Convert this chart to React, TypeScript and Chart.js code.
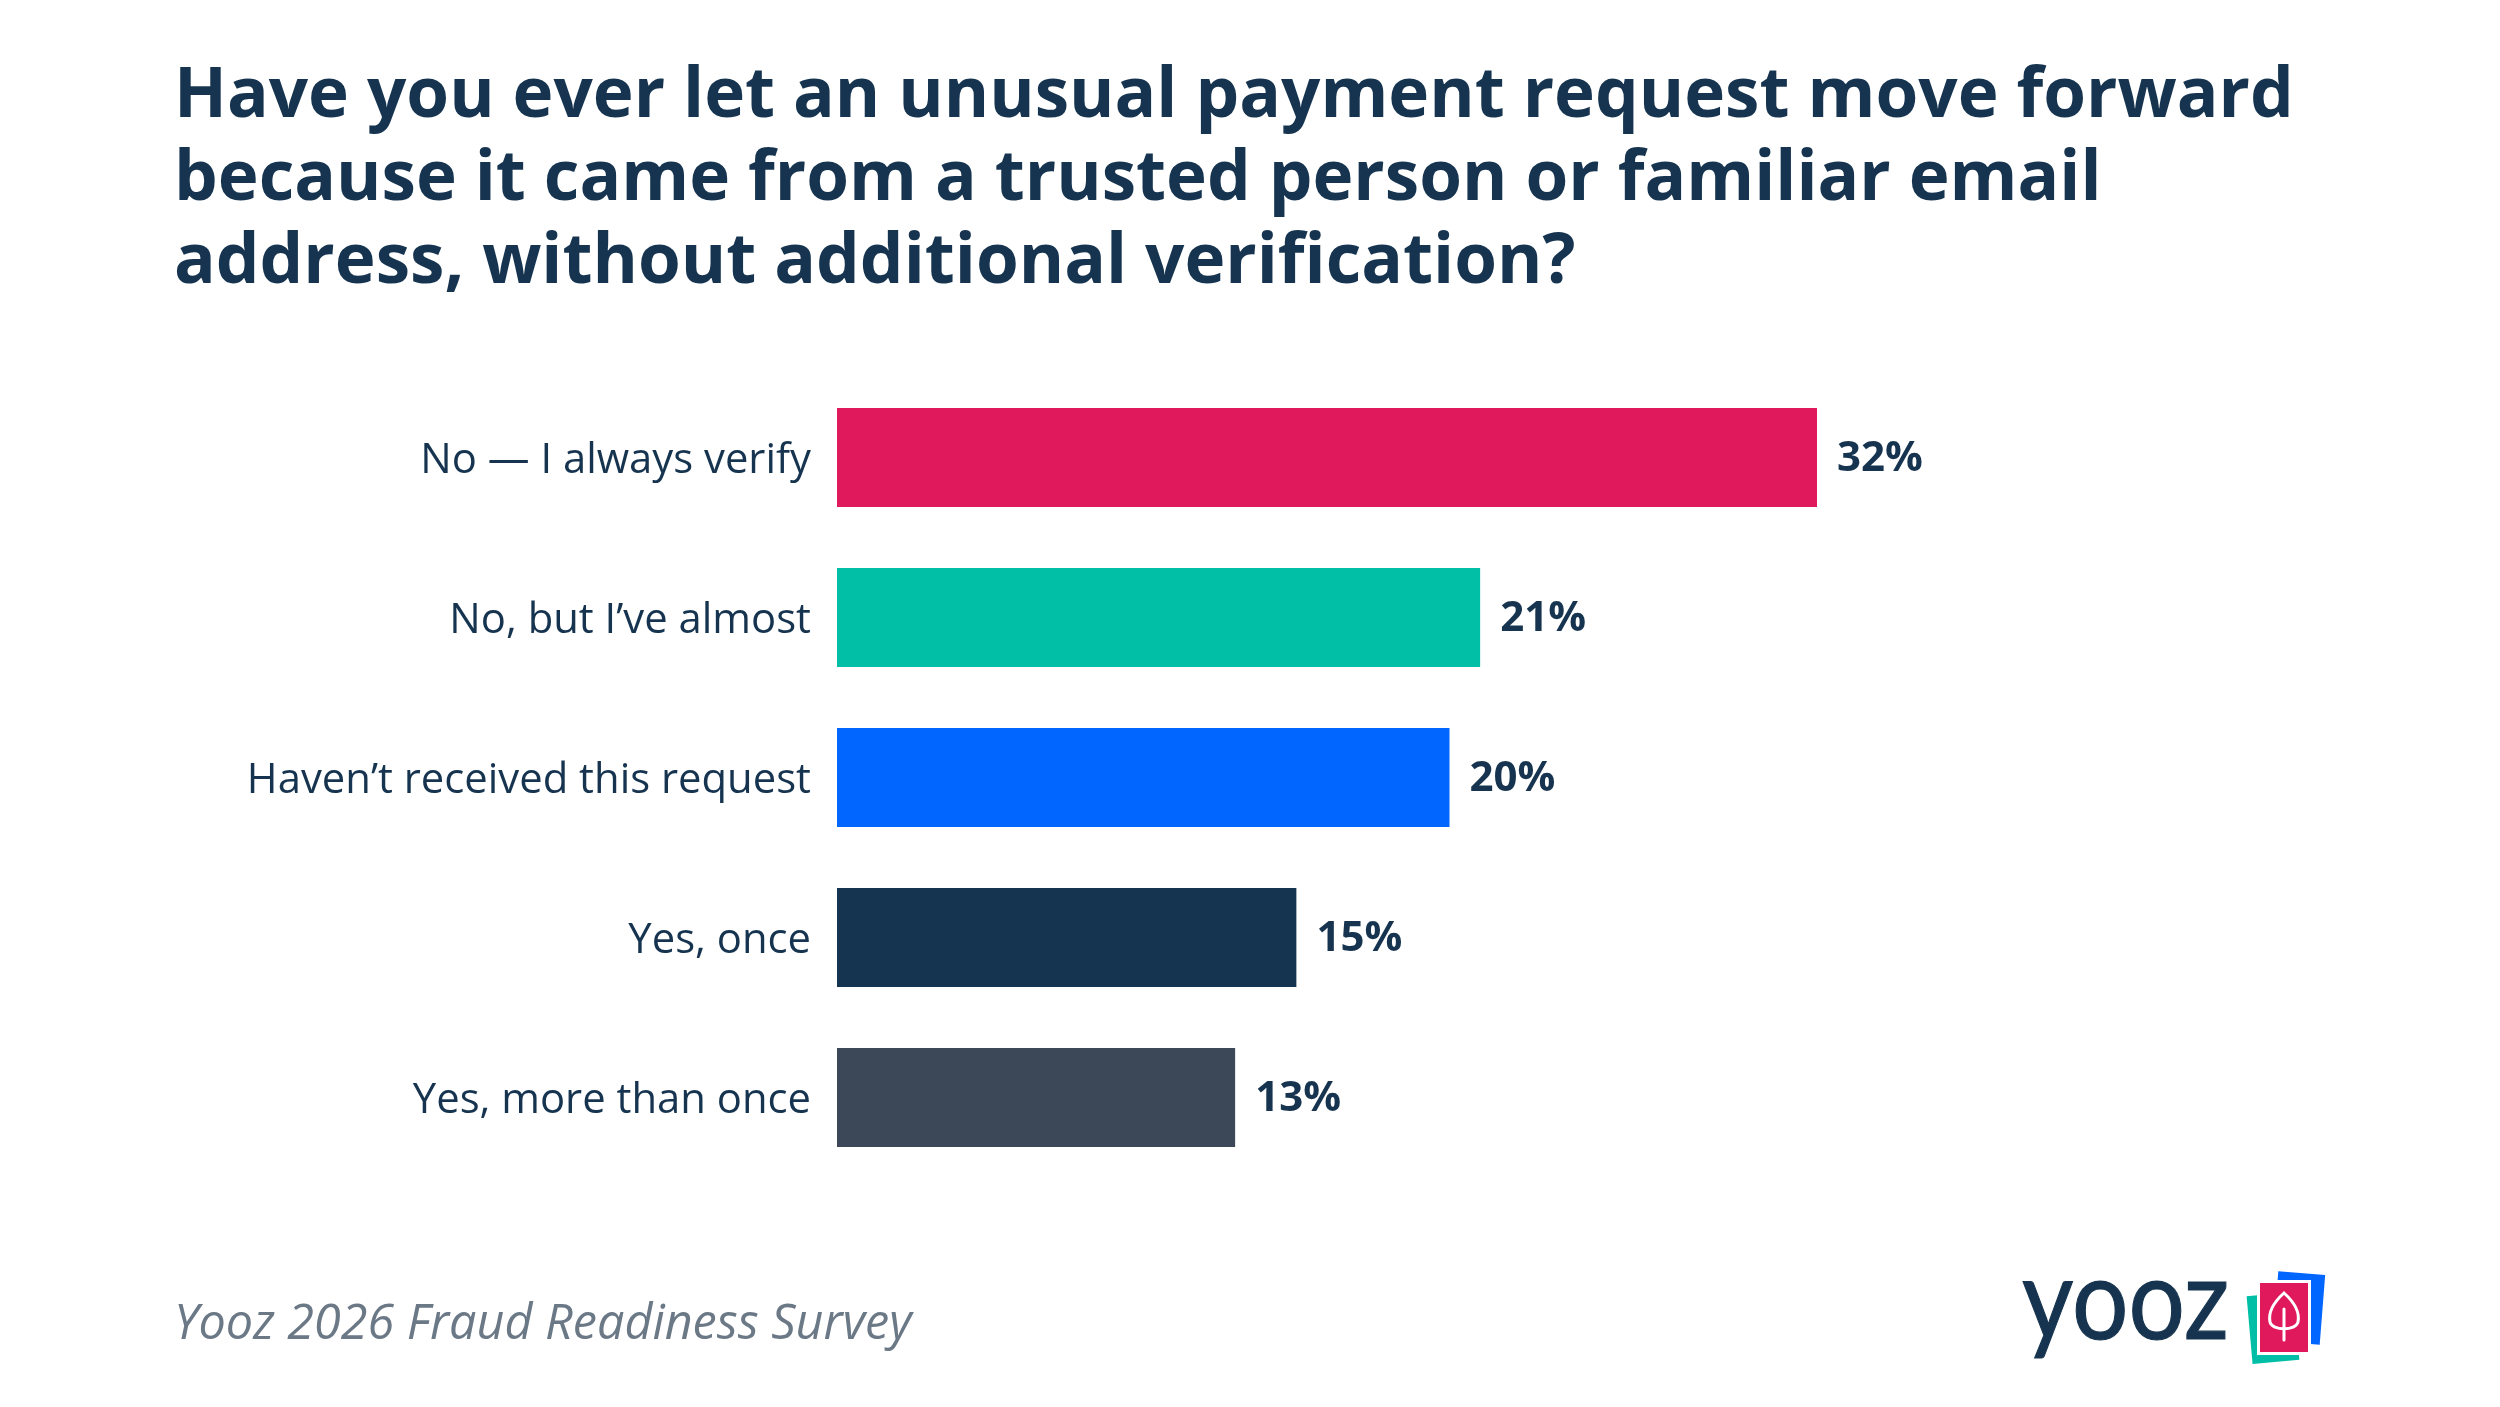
import React, { useEffect, useRef } from "react";
import { Chart, registerables } from "chart.js";

Chart.register(...registerables);

const categories = [
  "No — I always verify",
  "No, but I’ve almost",
  "Haven’t received this request",
  "Yes, once",
  "Yes, more than once",
];
const values = [32, 21, 20, 15, 13];
const barColors = ["#E0195C", "#00BFA6", "#0066FF", "#15344F", "#3C4757"];
const titleLines = [
  "Have you ever let an unusual payment request move forward",
  "because it came from a trusted person or familiar email",
  "address, without additional verification?",
];
const sourceText = "Yooz 2026 Fraud Readiness Survey";
const logoText = "yooz";

const NAVY = "#16344F";

const valueLabelPlugin = {
  id: "valueLabels",
  afterDatasetsDraw(chart: any) {
    const ctx = chart.ctx;
    const meta = chart.getDatasetMeta(0);
    ctx.save();
    ctx.font = "bold 42px 'Open Sans'";
    ctx.fillStyle = NAVY;
    ctx.textAlign = "left";
    ctx.textBaseline = "middle";
    meta.data.forEach((bar: any, i: number) => {
      ctx.fillText(`${values[i]}%`, bar.x + 20, bar.y + 2);
    });
    ctx.restore();
  },
};

const decorPlugin = {
  id: "decor",
  afterDraw(chart: any) {
    const ctx = chart.ctx as CanvasRenderingContext2D;
    ctx.save();
    // Title
    ctx.fillStyle = NAVY;
    ctx.font = "bold 69.2px 'Open Sans'";
    ctx.textAlign = "left";
    ctx.textBaseline = "alphabetic";
    const baselines = [117, 200, 283];
    titleLines.forEach((t, i) => ctx.fillText(t, 174, baselines[i]));

    // Source
    ctx.fillStyle = "#6B7886";
    ctx.font = "italic 48.5px 'Open Sans'";
    ctx.fillText(sourceText, 174, 1339);

    // Logo wordmark
    ctx.save();
    ctx.fillStyle = NAVY;
    ctx.font = "112px Lato";
    ctx.translate(2022, 1339);
    ctx.scale(0.89, 1);
    ctx.fillText(logoText, 0, 0);
    ctx.strokeStyle = NAVY;
    ctx.lineWidth = 1.2;
    ctx.strokeText(logoText, 0, 0);
    ctx.restore();

    // Logo cards
    const card = (cx: number, cy: number, w: number, h: number, ang: number, color: string, border: boolean) => {
      ctx.save();
      ctx.translate(cx, cy);
      ctx.rotate((ang * Math.PI) / 180);
      if (border) {
        ctx.fillStyle = "#FFFFFF";
        ctx.fillRect(-w / 2 - 3, -h / 2 - 3, w + 6, h + 6);
      }
      ctx.fillStyle = color;
      ctx.fillRect(-w / 2, -h / 2, w, h);
      ctx.restore();
    };
    card(2299, 1308, 47, 70, 4.5, "#0066FF", false);
    card(2273, 1328, 47, 68, -5, "#00BFA6", false);
    card(2284, 1317.5, 48, 69, 0, "#E0195C", true);
    // Leaf
    ctx.strokeStyle = "#FFFFFF";
    ctx.lineWidth = 3;
    ctx.lineCap = "round";
    ctx.beginPath();
    ctx.moveTo(2284, 1293);
    ctx.bezierCurveTo(2274, 1302, 2268, 1312, 2270, 1322);
    ctx.bezierCurveTo(2272, 1331, 2296, 1331, 2298, 1322);
    ctx.bezierCurveTo(2300, 1312, 2294, 1302, 2284, 1293);
    ctx.closePath();
    ctx.stroke();
    ctx.beginPath();
    ctx.moveTo(2284, 1309);
    ctx.lineTo(2284, 1340);
    ctx.stroke();
    ctx.restore();
  },
};

export default function App() {
  const canvasRef = useRef<HTMLCanvasElement | null>(null);

  useEffect(() => {
    if (!canvasRef.current) return;
    const chart = new Chart(canvasRef.current, {
      type: "bar",
      data: {
        labels: categories,
        datasets: [
          {
            data: values,
            backgroundColor: barColors,
            borderWidth: 0,
            barPercentage: 0.62,
            categoryPercentage: 1,
          },
        ],
      },
      options: {
        indexAxis: "y",
        responsive: false,
        animation: false,
        devicePixelRatio: 1,
        layout: { padding: { left: 0, right: 131.75, top: 377.5, bottom: 229.5 } },
        plugins: {
          legend: { display: false },
          tooltip: { enabled: false },
          title: { display: false },
        },
        scales: {
          x: {
            display: false,
            min: 0,
            max: 50,
          },
          y: {
            grid: { display: false, drawTicks: false },
            border: { display: false },
            ticks: {
              color: NAVY,
              font: { family: "'Open Sans'", size: 41.8 },
              padding: 26,
              labelOffset: 4,
            },
            afterFit: (scale: any) => {
              scale.width = 837;
            },
          },
        },
      },
      plugins: [valueLabelPlugin, decorPlugin],
    } as any);
    return () => chart.destroy();
  }, []);

  return (
    <div style={{ position: "absolute", left: 0, top: 0, width: 2500, height: 1407, background: "#FFFFFF" }}>
      <canvas ref={canvasRef} width={2500} height={1407} style={{ display: "block" }} />
    </div>
  );
}
